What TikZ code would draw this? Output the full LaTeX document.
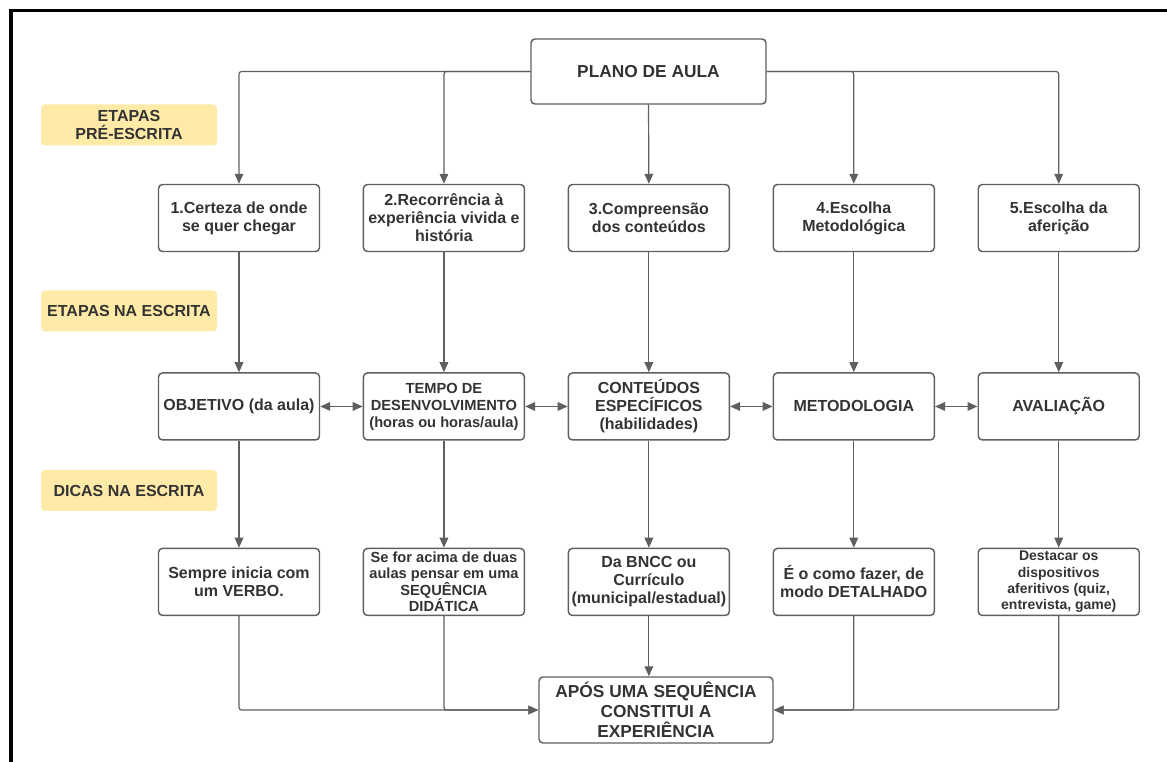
\documentclass[tikz,border=0pt]{standalone}
\usepackage{fontspec}
\setmainfont{Liberation Sans}
\usetikzlibrary{positioning, arrows.meta}
\definecolor{linegray}{RGB}{95,95,95}
\definecolor{txtgray}{RGB}{51,51,51}
\definecolor{tagyellow}{RGB}{255,234,167}

\begin{document}
\begin{tikzpicture}[x=0.75pt, y=-0.75pt,
  box/.style={rectangle, draw=linegray, line width=1.1pt, rounded corners=3pt, minimum width=120.75pt, minimum height=50.25pt, inner sep=1pt, align=center, text=txtgray, font=\fontsize{12}{13.5}\selectfont\bfseries},
  tag/.style={rectangle, fill=tagyellow, rounded corners=3pt, minimum width=132pt, minimum height=30.75pt, inner sep=1pt, align=center, text=txtgray, font=\fontsize{12}{13.5}\selectfont\bfseries},
  conn/.style={draw=linegray, line width=0.9pt, rounded corners=2pt, -{Triangle[length=7.5pt,width=6.5pt]}},
  both/.style={draw=linegray, line width=0.9pt, {Triangle[length=7.5pt,width=6.5pt]}-{Triangle[length=7.5pt,width=6.5pt]}}]

\useasboundingbox (0,0) rectangle (1167,762);

\draw[line width=2.4pt, line join=miter] (11,762) -- (11,10.5) -- (1167,10.5);

\node[box, minimum width=176.25pt, minimum height=48.75pt, font=\fontsize{13}{15}\selectfont\bfseries] (plano) at (648.5,71.5) {PLANO DE AULA};

\node[tag] (lpre) at (129,125) {ETAPAS\\PRÉ-ESCRITA};

\node[tag] (lesc) at (129,311) {ETAPAS NA ESCRITA};

\node[tag] (ldicas) at (129,490.5) {DICAS NA ESCRITA};

\node[box] (e1) at (239,218) {1.Certeza de onde\\se quer chegar};

\node[box, right=31.85pt of e1] (e2) {2.Recorrência à\\experiência vivida e\\história};

\node[box, right=31.85pt of e2] (e3) {3.Compreensão\\dos conteúdos};

\node[box, right=31.85pt of e3] (e4) {4.Escolha\\Metodológica};

\node[box, right=31.85pt of e4] (e5) {5.Escolha da\\aferição};

\node[box, below=90pt of e1] (w1) {OBJETIVO (da aula)};

\node[box, below=90pt of e2, font=\fontsize{11}{12.75}\selectfont\bfseries] (w2) {TEMPO DE\\DESENVOLVIMENTO\\(horas ou horas/aula)};

\node[box, below=90pt of e3] (w3) {CONTEÚDOS\\ESPECÍFICOS\\(habilidades)};

\node[box, below=90pt of e4] (w4) {METODOLOGIA};

\node[box, below=90pt of e5] (w5) {AVALIAÇÃO};

\node[box, below=80.25pt of w1] (t1) {Sempre inicia com\\um VERBO.};

\node[box, below=80.25pt of w2, font=\fontsize{11}{12.4}\selectfont\bfseries] (t2) {Se for acima de duas\\aulas pensar em uma\\SEQUÊNCIA\\DIDÁTICA};

\node[box, below=80.25pt of w3] (t3) {Da BNCC ou\\Currículo\\(municipal/estadual)};

\node[box, below=80.25pt of w4] (t4) {É o como fazer, de\\modo DETALHADO};

\node[box, below=80.25pt of w5, font=\fontsize{10.5}{12.2}\selectfont\bfseries] (t5) {Destacar os\\dispositivos\\aferitivos (quiz,\\entrevista, game)};

\node[box, minimum width=175.5pt, minimum height=49.5pt, font=\fontsize{13}{15}\selectfont\bfseries] (fim) at (656,710) {APÓS UMA SEQUÊNCIA\\CONSTITUI A\\EXPERIÊNCIA};

\draw[conn] (plano.west) -| (e1.north);
\draw[conn] (plano.west) -| (e2.north);
\draw[conn] (plano.south) -- (e3.north);
\draw[conn] (plano.east) -| (e4.north);
\draw[conn] (plano.east) -| (e5.north);

\draw[conn] (e1) -- (w1);
\draw[conn] (e2) -- (w2);
\draw[conn] (e3) -- (w3);
\draw[conn] (e4) -- (w4);
\draw[conn] (e5) -- (w5);

\draw[both] (w1) -- (w2);
\draw[both] (w2) -- (w3);
\draw[both] (w3) -- (w4);
\draw[both] (w4) -- (w5);

\draw[conn] (w1) -- (t1);
\draw[conn] (w2) -- (t2);
\draw[conn] (w3) -- (t3);
\draw[conn] (w4) -- (t4);
\draw[conn] (w5) -- (t5);

\draw[conn] (t1.south) |- (fim.west);
\draw[conn] (t2.south) |- (fim.west);
\draw[conn] (t3.south) -- (t3.south |- fim.north);
\draw[conn] (t4.south) |- (fim.east);
\draw[conn] (t5.south) |- (fim.east);

\end{tikzpicture}
\end{document}
